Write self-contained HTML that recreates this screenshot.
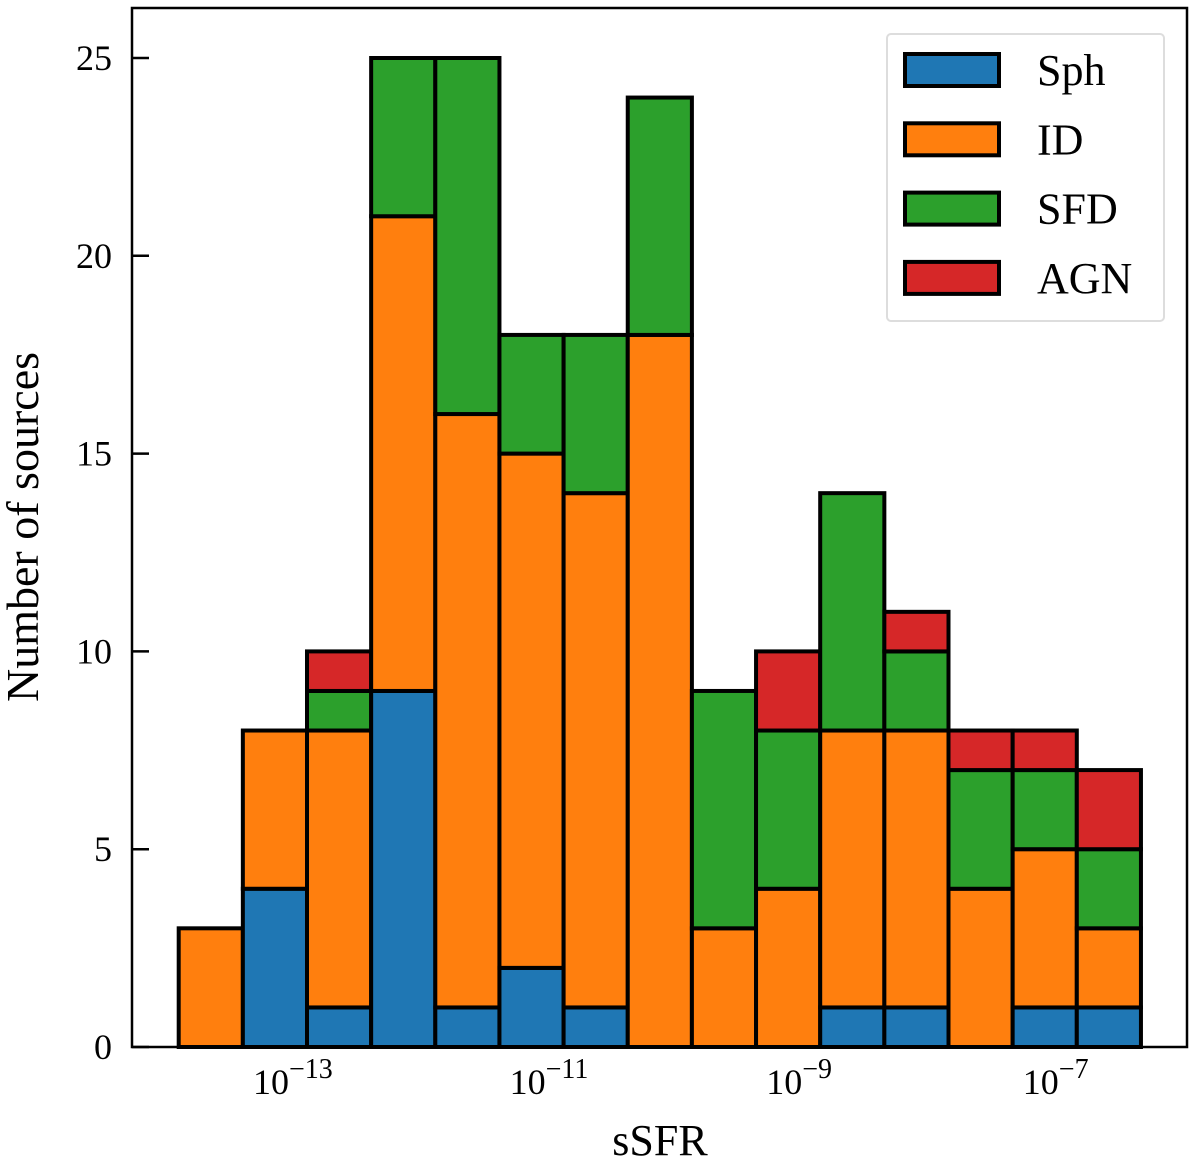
<!DOCTYPE html>
<html><head><meta charset="utf-8">
<style>
html,body{margin:0;padding:0;background:#fff;}
svg{display:block;font-family:"Liberation Serif","DejaVu Serif",serif;}
</style></head>
<body>
<svg id="chart" width="1200" height="1175" viewBox="0 0 1200 1175">
<rect x="132" y="8" width="1055" height="1039" fill="#fff"/>
<g id="bars"></g>
<g id="frame"></g>
<g id="ticks"></g>
<g id="legend">
  <rect x="887" y="34" width="277" height="287" rx="4" fill="#fff" fill-opacity="0.85" stroke="#ddd" stroke-width="2"/>
</g>
<text x="660" y="1155" font-size="44" text-anchor="middle">sSFR</text>
<text transform="translate(38,527) rotate(-90)" font-size="46" text-anchor="middle">Number of sources</text>
</svg>
<script>
const binEdgesLog = [-14,-13.5,-13,-12.5,-12,-11.5,-11,-10.5,-10,-9.5,-9,-8.5,-8,-7.5,-7,-6.5];
const sph = [0,4,1,9,1,2,1,0,0,0,1,1,0,1,1];
const idv = [3,4,7,12,15,13,13,18,3,4,7,7,4,4,2];
const sfd = [0,0,1,4,9,3,4,6,6,4,6,2,3,2,2];
const agn = [0,0,1,0,0,0,0,0,0,2,0,1,1,1,2];
const seriesNames = ["Sph","ID","SFD","AGN"];
const seriesColors = ["#1f77b4","#ff7f0e","#2ca02c","#d62728"];
const yTicks = [0,5,10,15,20,25];
const xTicksExp = [-13,-11,-9,-7];

const NS="http://www.w3.org/2000/svg";
const L=132,R=1187,T=8,B=1047;
function xs(lg){return 307+(lg+13)*128.3;}
function ys(v){return B-v*39.56;}
function mk(tag,attrs,parent){const e=document.createElementNS(NS,tag);for(const k in attrs)e.setAttribute(k,attrs[k]);parent.appendChild(e);return e;}

const bars=document.getElementById('bars');
const series=[sph,idv,sfd,agn];
for(let i=0;i<binEdgesLog.length-1;i++){
  let base=0;
  for(let s=0;s<4;s++){
    const v=series[s][i];
    if(v<=0)continue;
    const x0=xs(binEdgesLog[i]),x1=xs(binEdgesLog[i+1]);
    const r=mk('rect',{x:x0,y:ys(base+v),width:x1-x0,height:ys(base)-ys(base+v),fill:seriesColors[s],stroke:'#000','stroke-width':4},bars);
    
    
    base+=v;
  }
}
const frame=document.getElementById('frame');
const fr=mk('rect',{x:L,y:T,width:R-L,height:B-T,fill:'none',stroke:'#000','stroke-width':2.5},frame);



const ticks=document.getElementById('ticks');
yTicks.forEach(v=>{
  const y=ys(v);
  const l=mk('line',{x1:L,x2:L+17,y1:y,y2:y,stroke:'#000','stroke-width':2.5},ticks);
  
  
  const t=mk('text',{x:112,y:y+12,'font-size':36,'text-anchor':'end'},ticks);
  t.textContent=v;
  
  
});
xTicksExp.forEach(e=>{
  const x=xs(e);
  const t=mk('text',{x:x-54,y:1094,'font-size':36},ticks);
  
  
  const a=document.createElementNS(NS,'tspan');a.textContent='10';t.appendChild(a);
  const b=document.createElementNS(NS,'tspan');b.setAttribute('dy','-16');b.setAttribute('font-size','28');b.textContent='\u2212'+(-e);t.appendChild(b);
});

const leg=document.getElementById('legend');
seriesNames.forEach((n,i)=>{
  const cy=70+i*69.3;
  const p=mk('rect',{x:905,y:cy-16,width:94,height:32,fill:seriesColors[i],stroke:'#000','stroke-width':4},leg);
  
  
  const t=mk('text',{x:1037,y:cy+15,'font-size':44},leg);
  t.textContent=n;
  
  
});
</script>
</body></html>
